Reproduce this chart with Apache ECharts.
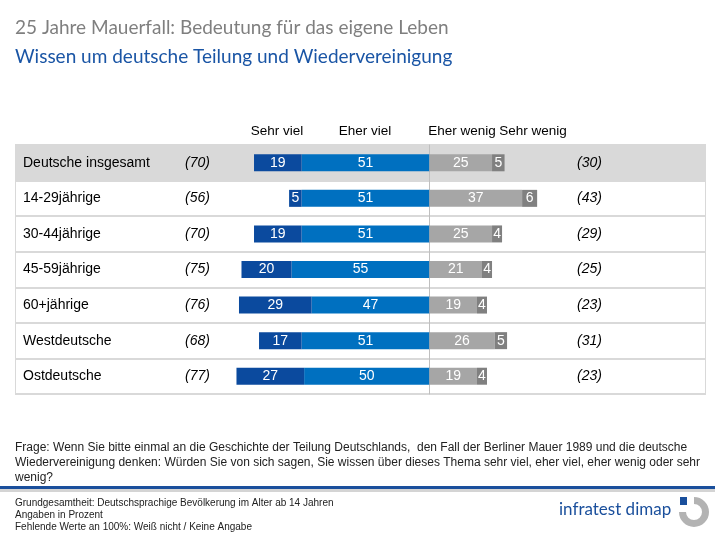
<!DOCTYPE html>
<html><head><meta charset="utf-8">
<script src="https://cdn.jsdelivr.net/npm/echarts@6/dist/echarts.min.js"></script>
<style>html,body{margin:0;padding:0;background:#fff}#c{width:715px;height:537px}</style>
</head><body><div id="c"></div>
<script>
const categories = ['Deutsche insgesamt','14-29jährige','30-44jährige','45-59jährige','60+jährige','Westdeutsche','Ostdeutsche'];
const sehrViel = [19,5,19,20,29,17,27];
const eherViel = [51,51,51,55,47,51,50];
const eherWenig = [25,37,25,21,19,26,19];
const sehrWenig = [5,6,4,4,4,5,4];
const sumViel = ['(70)','(56)','(70)','(75)','(76)','(68)','(77)'];
const sumWenig = ['(30)','(43)','(29)','(25)','(23)','(31)','(23)'];
const headers = ['Sehr viel','Eher viel','Eher wenig','Sehr wenig'];

const chart = echarts.init(document.getElementById('c'));
const F = 'Liberation Sans, Arial, sans-serif';
const lbl = {show:true, color:'#fff', fontSize:14, fontFamily:F, formatter:p=>Math.abs(p.value)};
const rowColors = categories.map((c,i)=> i===0 ? '#d9d9d9' : '#ffffff');

chart.setOption({
  animation:false,
  grid:{left:16, right:10, top:145, bottom:143, show:true, borderColor:'#d9d9d9', borderWidth:2, backgroundColor:'transparent'},
  xAxis:{type:'value', min:-165, max:110, show:false},
  yAxis:[
    {type:'category', data:categories, inverse:true,
     axisLine:{show:true, onZero:true, lineStyle:{color:'#bfbfbf', width:1}},
     axisTick:{show:false}, axisLabel:{show:false},
     splitLine:{show:true, lineStyle:{color:'#d9d9d9', width:2}},
     splitArea:{show:true, areaStyle:{color:rowColors}}},
    {type:'category', data:categories, inverse:true, position:'left',
     axisLine:{show:false, onZero:false}, axisTick:{show:false},
     axisLabel:{inside:true, margin:7, align:'left', fontFamily:F, fontSize:14, color:'#000',
       formatter:(v,i)=>'{n|'+v+'}{v|'+sumViel[i]+'}',
       rich:{n:{width:160, fontFamily:F, fontSize:14, color:'#000'}, v:{width:27, align:'right', fontStyle:'italic', fontFamily:F, fontSize:14, color:'#000'}}}},
    {type:'category', data:sumWenig, inverse:true, position:'right',
     axisLine:{show:false, onZero:false}, axisTick:{show:false},
     axisLabel:{inside:true, margin:103, align:'right', fontFamily:F, fontSize:14, fontStyle:'italic', color:'#000'}}
  ],
  series:[
    {name:'Eher viel', type:'bar', stack:'s', barWidth:17, data:eherViel.map(v=>-v), itemStyle:{color:'#0070c0'}, label:lbl},
    {name:'Sehr viel', type:'bar', stack:'s', barWidth:17, data:sehrViel.map(v=>-v), itemStyle:{color:'#0b4a9e'}, label:lbl},
    {name:'Eher wenig', type:'bar', stack:'s', barWidth:17, data:eherWenig, itemStyle:{color:'#a6a6a6'}, label:lbl},
    {name:'Sehr wenig', type:'bar', stack:'s', barWidth:17, data:sehrWenig, itemStyle:{color:'#808080'}, label:lbl}
  ],
  graphic:[
    {type:'text', left:15, top:18, style:{text:'25 Jahre Mauerfall: Bedeutung für das eigene Leben', fill:'#7f7f7f', font:'19px Lato, sans-serif'}},
    {type:'text', left:15, top:47, style:{text:'Wissen um deutsche Teilung und Wiedervereinigung', fill:'#1a55a5', font:'19px Lato, sans-serif'}},
    {type:'text', x:277, y:131, style:{text:headers[0], align:'center', verticalAlign:'middle', fill:'#000', font:'13.5px '+F}},
    {type:'text', x:365, y:131, style:{text:headers[1], align:'center', verticalAlign:'middle', fill:'#000', font:'13.5px '+F}},
    {type:'text', x:462, y:131, style:{text:headers[2], align:'center', verticalAlign:'middle', fill:'#000', font:'13.5px '+F}},
    {type:'text', x:533, y:131, style:{text:headers[3], align:'center', verticalAlign:'middle', fill:'#000', font:'13.5px '+F}},
    {type:'text', left:15, top:440, style:{text:'Frage: Wenn Sie bitte einmal an die Geschichte der Teilung Deutschlands,  den Fall der Berliner Mauer 1989 und die deutsche\nWiedervereinigung denken: Würden Sie von sich sagen, Sie wissen über dieses Thema sehr viel, eher viel, eher wenig oder sehr\nwenig?', fill:'#222', font:'12px '+F, lineHeight:15}},
    {type:'rect', shape:{x:0, y:486, width:715, height:3}, style:{fill:'#1a4f9c'}},
    {type:'rect', shape:{x:0, y:489, width:715, height:3}, style:{fill:'#d4d4d4'}},
    {type:'text', left:15, top:497, style:{text:'Grundgesamtheit: Deutschsprachige Bevölkerung im Alter ab 14 Jahren\nAngaben in Prozent\nFehlende Werte an 100%: Weiß nicht / Keine Angabe', fill:'#222', font:'10px '+F, lineHeight:12}},
    {type:'text', left:559, top:501, style:{text:'infratest dimap', fill:'#1a4f9c', font:'17px Lato, sans-serif'}},
    {type:'sector', shape:{cx:694, cy:512, r:15, r0:8, startAngle:-Math.PI*0.5, endAngle:Math.PI*1.0, clockwise:true}, style:{fill:'#b3b3b3'}},
    {type:'rect', shape:{x:680, y:497, width:7, height:8}, style:{fill:'#1a4f9c'}}
  ]
});
</script></body></html>
